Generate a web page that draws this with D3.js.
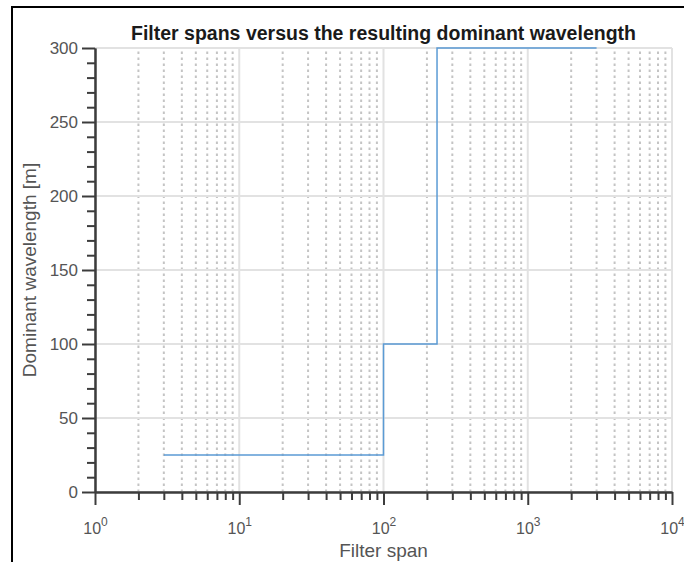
<!DOCTYPE html>
<html>
<head>
<meta charset="utf-8">
<script src="https://cdn.jsdelivr.net/npm/d3@7"></script>
<style>
  body { margin: 0; background: #fff; }
  text { font-family: "Liberation Sans", Arial, sans-serif; }
</style>
</head>
<body>
<div id="chart"></div>
<script>
// step data: filter span -> dominant wavelength
const spans = [3, 100, 235, 3000];
const wavelengths = [25, 100, 300, 300];
const xMajor = [1, 10, 100, 1000, 10000];
const yMajor = [0, 50, 100, 150, 200, 250, 300];

const W = 684, H = 562;
const m = {left: 95, right: 12, top: 48, bottom: 70};

const svg = d3.select("#chart").append("svg")
    .attr("width", W)
    .attr("height", H);

const x = d3.scaleLog().domain([1, 10000]).range([m.left, W - m.right]);
const y = d3.scaleLinear().domain([0, 300]).range([H - m.bottom, m.top]);

// minor x ticks 2..9 per decade
const xMinor = [];
xMajor.slice(0, -1).forEach(d => {
    for (let k = 2; k <= 9; k++) xMinor.push(d * k);
});
const yMinor = d3.range(0, 301, 10).filter(v => v % 50 !== 0);

// outer frame (top + left edge)
svg.append("path")
    .attr("d", "M12,562V7H684")
    .attr("fill", "none")
    .attr("stroke", "#000")
    .attr("stroke-width", 2);

const grid = svg.append("g");
grid.selectAll(".xminor").data(xMinor).enter().append("line")
    .attr("x1", d => x(d)).attr("x2", d => x(d))
    .attr("y1", y(0)).attr("y2", y(300))
    .attr("stroke", "#c4c4c4")
    .attr("stroke-width", 2)
    .attr("stroke-dasharray", "2.5,3.5");
grid.selectAll(".xmaj").data(xMajor).enter().append("line")
    .attr("x1", d => x(d)).attr("x2", d => x(d))
    .attr("y1", y(0)).attr("y2", y(300))
    .attr("stroke", "#e2e2e2")
    .attr("stroke-width", 2);
grid.selectAll(".ymaj").data(yMajor).enter().append("line")
    .attr("x1", x(1)).attr("x2", x(10000))
    .attr("y1", d => y(d)).attr("y2", d => y(d))
    .attr("stroke", "#e2e2e2")
    .attr("stroke-width", 2);

// step line
const pts = spans.map((s, i) => [s, wavelengths[i]]);
svg.append("path")
    .datum(pts)
    .attr("fill", "none")
    .attr("stroke", "#5b9bd5")
    .attr("stroke-width", 1.5)
    .attr("d", d3.line().x(d => x(d[0])).y(d => y(d[1])).curve(d3.curveStepAfter));

const axisColor = "#3c3c3c";
const labelColor = "#555";

function styleAxis(g) {
    g.select(".domain").attr("stroke", axisColor).attr("stroke-width", 2);
    g.selectAll(".tick line").attr("stroke", axisColor).attr("stroke-width", 2);
    g.selectAll(".tick text").attr("fill", labelColor).attr("font-size", 17)
        .attr("font-family", "Liberation Sans, Arial, sans-serif");
}

// x axis minor ticks
svg.append("g")
    .attr("transform", `translate(0,${y(0)})`)
    .call(d3.axisBottom(x).tickValues(xMinor).tickSize(8).tickFormat("").tickSizeOuter(0))
    .call(styleAxis);

// x axis major ticks
const xAxis = svg.append("g")
    .attr("transform", `translate(0,${y(0)})`)
    .call(d3.axisBottom(x).tickValues(xMajor).tickSize(13).tickSizeOuter(0).tickPadding(18))
    .call(styleAxis);
xAxis.selectAll(".tick text").attr("font-size", 16).each(function(d) {
    const t = d3.select(this).text(null);
    t.append("tspan").text("10");
    t.append("tspan").attr("dy", -8).attr("font-size", 12).text(Math.round(Math.log10(d)));
});

// y axis minor ticks
svg.append("g")
    .attr("transform", `translate(${x(1)},0)`)
    .call(d3.axisLeft(y).tickValues(yMinor).tickSize(8).tickFormat("").tickSizeOuter(0))
    .call(styleAxis);

// y axis major ticks
svg.append("g")
    .attr("transform", `translate(${x(1)},0)`)
    .call(d3.axisLeft(y).tickValues(yMajor).tickSize(13).tickSizeOuter(0).tickPadding(4))
    .call(styleAxis);

// title and labels
svg.append("text")
    .attr("x", (x(1) + x(10000)) / 2)
    .attr("y", 40)
    .attr("text-anchor", "middle")
    .attr("font-weight", "bold")
    .attr("font-size", 19.5)
    .attr("fill", "#1a1a1a")
    .text("Filter spans versus the resulting dominant wavelength");

svg.append("text")
    .attr("x", (x(1) + x(10000)) / 2)
    .attr("y", 557)
    .attr("text-anchor", "middle")
    .attr("font-size", 19)
    .attr("fill", labelColor)
    .text("Filter span");

svg.append("text")
    .attr("transform", `translate(36,${(y(0) + y(300)) / 2}) rotate(-90)`)
    .attr("text-anchor", "middle")
    .attr("font-size", 19)
    .attr("fill", labelColor)
    .text("Dominant wavelength [m]");
</script>
</body>
</html>
